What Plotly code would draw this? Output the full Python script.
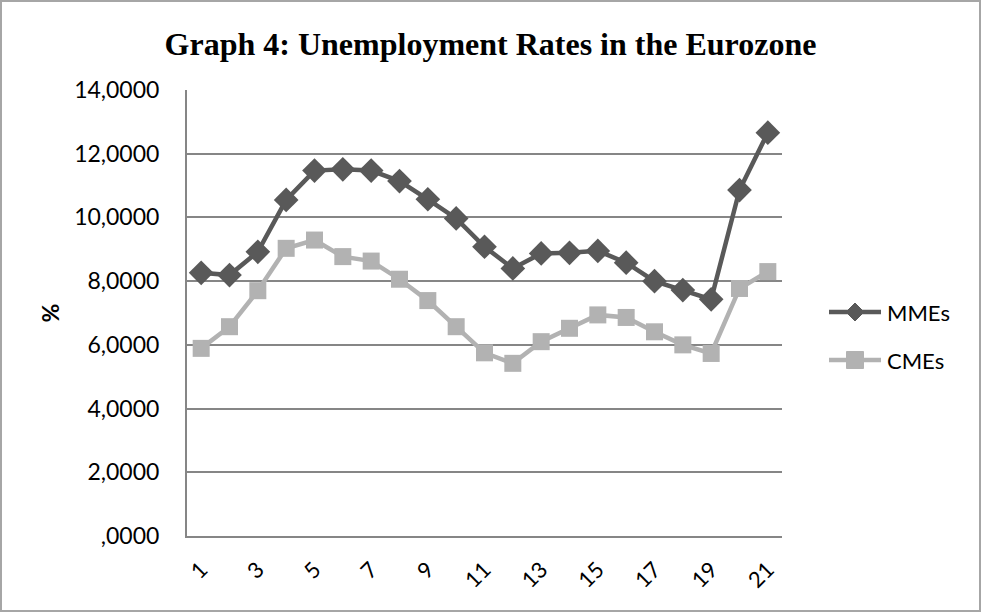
import plotly.graph_objects as go

periods = list(range(1, 22))
mmes = [8.26, 8.19, 8.92, 10.55, 11.47, 11.51, 11.47, 11.14, 10.57, 9.97, 9.08,
        8.40, 8.87, 8.89, 8.95, 8.58, 8.00, 7.72, 7.43, 10.86, 12.66]
cmes = [5.89, 6.57, 7.70, 9.03, 9.29, 8.77, 8.63, 8.06, 7.39, 6.57, 5.75,
        5.42, 6.10, 6.52, 6.94, 6.86, 6.41, 6.00, 5.73, 7.77, 8.30]
y_ticks = [0, 2, 4, 6, 8, 10, 12, 14]
y_labels = [",0000", "2,0000", "4,0000", "6,0000", "8,0000", "10,0000", "12,0000", "14,0000"]
x_ticks = [1, 3, 5, 7, 9, 11, 13, 15, 17, 19, 21]
series_names = ["MMEs", "CMEs"]
series_colors = ["#595959", "#B2B2B2"]

W, H = 981, 612
ML, MR, MT, MB = 187, 199, 90, 76
pw, ph = W - ML - MR, H - MT - MB


def px_x(x):
    return (x - ML) / pw


def px_y(y):
    return 1 - (y - MT) / ph


fig = go.Figure()
fig.add_trace(go.Scatter(
    x=periods, y=mmes, name=series_names[0], mode="lines+markers",
    line=dict(color=series_colors[0], width=4.5),
    marker=dict(symbol="diamond", size=19, color=series_colors[0]),
))
fig.add_trace(go.Scatter(
    x=periods, y=cmes, name=series_names[1], mode="lines+markers",
    line=dict(color=series_colors[1], width=4.5),
    marker=dict(symbol="square", size=17, color=series_colors[1]),
))

fig.update_layout(
    width=W, height=H,
    margin=dict(l=ML, r=MR, t=MT, b=MB),
    paper_bgcolor="white", plot_bgcolor="white",
    title=dict(text="<b>Graph 4: Unemployment Rates in the Eurozone</b>",
               x=0.5, xanchor="center", y=1 - 44 / H, yanchor="middle",
               font=dict(family="Liberation Serif", size=32, color="black")),
    font=dict(family="Lato", size=23, color="black"),
    showlegend=False,
)
fig.update_xaxes(
    range=[0.5, 21.5], tickvals=x_ticks, ticktext=[str(v) for v in x_ticks],
    tickangle=-45, showgrid=False, zeroline=False,
    showline=True, linecolor="#868686", linewidth=2,
    tickfont=dict(family="Lato", size=22, color="black"), ticks="",
    ticklabelstandoff=10,
)
fig.update_yaxes(
    range=[0, 14], tickvals=y_ticks, ticktext=y_labels,
    showgrid=True, gridcolor="#868686", gridwidth=1.5, zeroline=False,
    showline=True, linecolor="#868686", linewidth=2,
    tickfont=dict(family="Lato", size=23, color="black"), ticks="",
    ticklabelstandoff=21,
    title=dict(text="<b>%</b>", font=dict(family="Lato", size=23, color="black"),
               standoff=8),
)

# legend drawn at the right of the plot: line, marker glyph and label
legend_rows = [312, 360]
for name, color, row, kind in zip(series_names, series_colors, legend_rows,
                                  ["diamond", "square"]):
    fig.add_shape(type="line", xref="paper", yref="paper",
                  x0=px_x(829), x1=px_x(881), y0=px_y(row), y1=px_y(row),
                  line=dict(color=color, width=4.5))
    cx = 855
    if kind == "diamond":
        d = 9
        path = (f"M {px_x(cx - d)} {px_y(row)} L {px_x(cx)} {px_y(row - d)} "
                f"L {px_x(cx + d)} {px_y(row)} L {px_x(cx)} {px_y(row + d)} Z")
        fig.add_shape(type="path", xref="paper", yref="paper", path=path,
                      fillcolor=color, line=dict(color=color, width=1))
    else:
        s = 8.5
        fig.add_shape(type="rect", xref="paper", yref="paper",
                      x0=px_x(cx - s), x1=px_x(cx + s),
                      y0=px_y(row + s), y1=px_y(row - s),
                      fillcolor=color, line=dict(color=color, width=1))
    fig.add_annotation(x=px_x(885), y=px_y(row), xref="paper", yref="paper",
                       text=name, showarrow=False, xanchor="left", yanchor="middle",
                       font=dict(family="Lato", size=22, color="black"))

# thin border around the whole chart
fig.add_shape(type="rect", xref="paper", yref="paper",
              x0=-(ML - 1) / pw, x1=1 + (MR - 1) / pw,
              y0=-(MB - 1) / ph, y1=1 + (MT - 1) / ph,
              line=dict(color="#A6A6A6", width=2), layer="below")

fig.write_html("out.html")
